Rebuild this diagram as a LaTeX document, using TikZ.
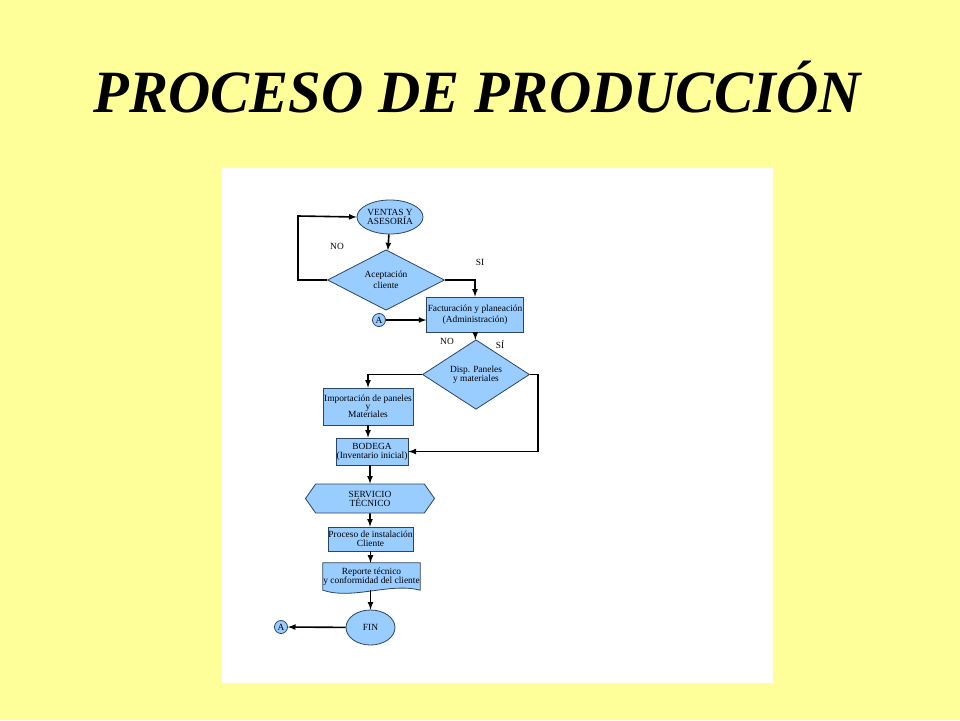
\documentclass[tikz,border=0pt]{standalone}
\usepackage{fontspec}
\setmainfont{Liberation Serif}
\usetikzlibrary{arrows,positioning,shapes,shapes.geometric,shapes.symbols,backgrounds}
\definecolor{slidebg}{HTML}{FFFF99}
\definecolor{boxfill}{HTML}{99CCFF}
\definecolor{boxline}{HTML}{2E4560}

\begin{document}
\begin{tikzpicture}[x=1pt, y=-1pt, font=\fontsize{9.4}{11}\selectfont,
    box/.style={rectangle, draw=boxline, fill=boxfill, line width=0.8pt, inner sep=1pt, align=center},
    decision/.style={diamond, draw=boxline, fill=boxfill, line width=0.8pt, inner sep=0pt, align=center},
    terminal/.style={ellipse, draw=boxline, fill=boxfill, line width=0.8pt, inner sep=0pt, align=center},
    connector/.style={circle, draw=boxline, fill=boxfill, line width=0.8pt, inner sep=0pt, minimum size=13pt},
    flow/.style={draw, -latex, line width=1.6pt}]
        %nodes
        \node[anchor=base, xscale=0.975] (title) at (477.5,112) {\fontsize{60}{70}\selectfont\bfseries\itshape PROCESO DE PRODUCCIÓN};
        \node[terminal, minimum width=66pt, minimum height=34pt] (ventas) at (390,217) {VENTAS Y\\[-2pt]ASESORÍA};
        \node[decision, minimum width=117pt, minimum height=49pt] (acept) at (386,280) {Aceptación\\cliente};
        \node[box, minimum width=96pt, minimum height=35pt] (fact) at (475,314.5) {Facturación y planeación\\(Administración)};
        \node[connector] (a1) at (379,320) {A};
        \node[decision, minimum width=107pt, minimum height=53pt] (disp) at (476,374.5) {Disp. Paneles\\[-2pt]y materiales};
        \node[box, minimum width=90pt, minimum height=37pt, inner sep=0pt] (impor) at (368,406.5) {Importación de paneles\\[-3pt]y\\[-3pt]Materiales};
        \node[box, minimum width=72pt, minimum height=27pt, inner sep=0pt] (bodega) at (372,451.5) {BODEGA\\[-2pt](Inventario inicial)};
        \node[signal, signal to=east and west, signal pointer angle=110, draw=boxline, fill=boxfill, line width=0.8pt,
              minimum width=129pt, minimum height=29pt, inner sep=0pt, align=center] (serv) at (370,498.5) {SERVICIO\\[-2pt]TÉCNICO};
        \node[box, minimum width=85pt, minimum height=24pt, inner sep=0pt] (inst) at (370.5,539) {Proceso de instalación\\[-2pt]Cliente};
        \node[align=center, minimum width=97pt, minimum height=27pt, inner sep=0pt] (rep) at (371.5,576.5) {Reporte técnico\\[-2pt]y conformidad del cliente};
        \node[terminal, minimum width=49pt, minimum height=35pt] (fin) at (370.5,627.5) {FIN};
        \node[connector] (a2) at (281,627) {A};
        %background
        \begin{pgfonlayer}{background}
        \fill[slidebg] (0,0) rectangle (960,720);
        \fill[white] (222,168) rectangle (773,683);
        \path[draw=boxline, fill=boxfill, line width=0.8pt] (rep.north west) -- (rep.north east) -- (rep.south east)
            .. controls +(-30,-8) and +(30,10) .. (rep.south west) -- cycle;
        \end{pgfonlayer}
        %labels
        \node at (337,246) {NO};
        \node at (480,262) {SI};
        \node at (447,341) {NO};
        \node at (500,345) {SÍ};
        %edges
        \path [flow] (ventas) to (acept);
        \path [flow] (acept.west) -- (298,280) -- (298,216) -- (ventas.west);
        \path [flow] (acept.east) -| (fact.north);
        \path [flow] (a1) to (a1 -| fact.west);
        \path [flow] (fact) to (disp);
        \path [flow] (disp.west) -| (impor.north);
        \path [flow] (disp.east) -- (538,374.5) |- (bodega.east);
        \path [flow] (impor) to (impor |- bodega.north);
        \path [flow] (bodega.south -| serv) to (serv.north);
        \path [flow] (serv) to (serv |- inst.north);
        \path [flow] (inst) to (inst |- rep.north);
        \path [flow] (rep.south -| fin) to (fin);
        \path [flow] (fin) to (a2);
      \end{tikzpicture}
\end{document}
